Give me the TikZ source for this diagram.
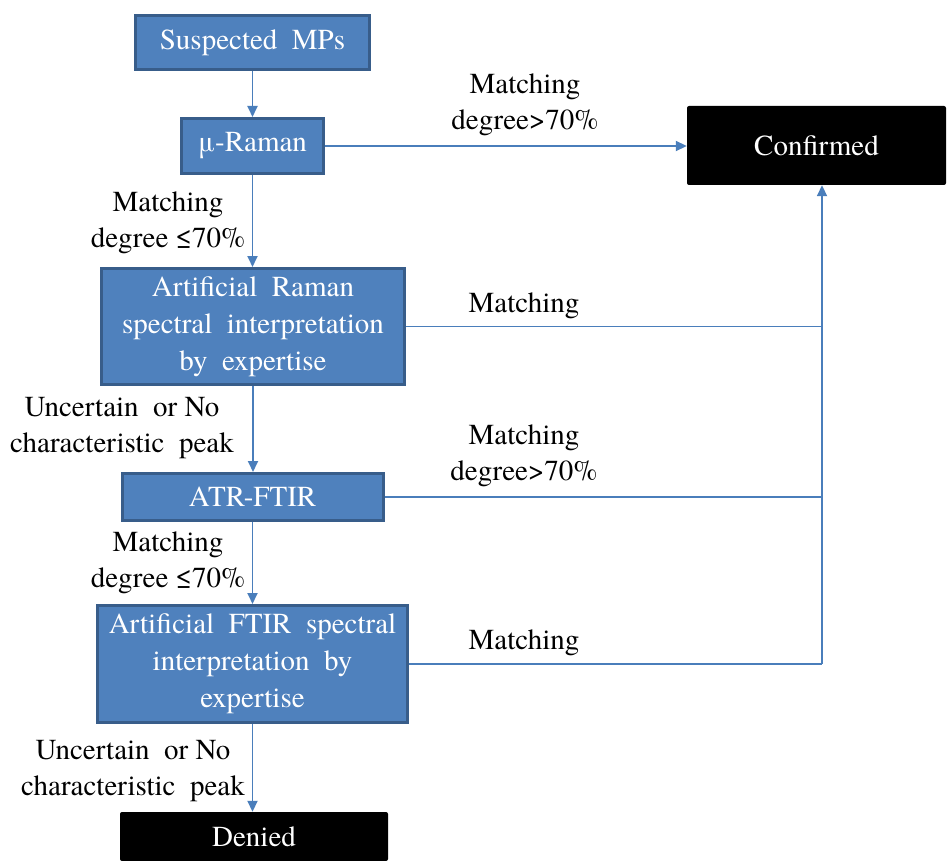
\documentclass[tikz,border=0pt]{standalone}
\usepackage{fontspec}
\setmainfont{texgyretermes}[Extension=.otf, UprightFont=*-regular, BoldFont=*-bold]
\usetikzlibrary{arrows.meta}
\definecolor{boxfill}{HTML}{4F81BD}
\definecolor{boxline}{HTML}{385D8A}
\definecolor{connc}{HTML}{4A7EBB}
\begin{document}
\begin{tikzpicture}[x=1pt,y=-1pt,
  bluebox/.style={draw=boxline, line width=3pt, fill=boxfill, text=white, align=center, inner sep=0pt, font=\fontsize{29}{37}\selectfont},
  blackbox/.style={fill=black, text=white, rounded corners=2pt, inner sep=0pt, font=\fontsize{29}{37}\selectfont},
  lbl/.style={align=center, inner sep=0pt, font=\fontsize{29}{36}\selectfont},
  arr/.style={draw=connc, line width=1.8pt, -{Triangle[length=11pt,width=10pt]}},
  plainline/.style={draw=connc, line width=1.8pt}]
\useasboundingbox (0,0) rectangle (947,861);
\node[bluebox, minimum width=234pt, minimum height=54pt] (sus) at (252.5,42.5) {Suspected\ \ MPs};
\node[bluebox, minimum width=142pt, minimum height=55pt] (mu) at (252.5,146) {μ-Raman};
\node[bluebox, minimum width=303pt, minimum height=116pt] (art) at (253,326.5) {Artificial\ \ Raman\\spectral\ \ interpretation\\by\ \ expertise};
\node[bluebox, minimum width=261pt, minimum height=47pt] (atr) at (252.5,497) {ATR-FTIR};
\node[bluebox, minimum width=310pt, minimum height=117pt] (aft) at (252.5,664) {Artificial\ \ FTIR\ \ spectral\\interpretation\ \ by\\expertise};
\node[blackbox, minimum width=259pt, minimum height=79pt] (conf) at (816.5,145.5) {Confirmed};
\node[blackbox, minimum width=268pt, minimum height=49pt] (den) at (254,836.5) {Denied};
\coordinate (j) at (822,664);
\draw[arr] (sus) -- (mu);
\draw[arr] (mu.east) -- (mu.east -| conf.west);
\draw[arr] (mu.south) -- (mu.south |- art.north);
\draw[arr] (art.south) -- (art.south |- atr.north);
\draw[arr] (atr.south) -- (atr.south |- aft.north);
\draw[arr] (aft.south) -- (aft.south |- den.north);
\draw[plainline] (art.east) -- (art.east -| j);
\draw[plainline] (atr.east) -- (atr.east -| j);
\draw[plainline] (aft.east) -- (j);
\draw[arr] (j) -- (j |- conf.south);
\node[lbl] (l1) at (525,104.5) {Matching\\degree>70\%};
\node[lbl] (l2) at (168,222.5) {Matching\\degree ≤70\%};
\node[lbl] (l3) at (524,306) {Matching};
\node[lbl] (l4) at (122,428.5) {Uncertain\ \ or No\\characteristic\ \ peak};
\node[lbl] (l5) at (524,456) {Matching\\degree>70\%};
\node[lbl] (l6) at (168,562.5) {Matching\\degree ≤70\%};
\node[lbl] (l7) at (524,643) {Matching};
\node[lbl] (l8) at (133,771.5) {Uncertain\ \ or No\\characteristic\ \ peak};
\end{tikzpicture}
\end{document}
